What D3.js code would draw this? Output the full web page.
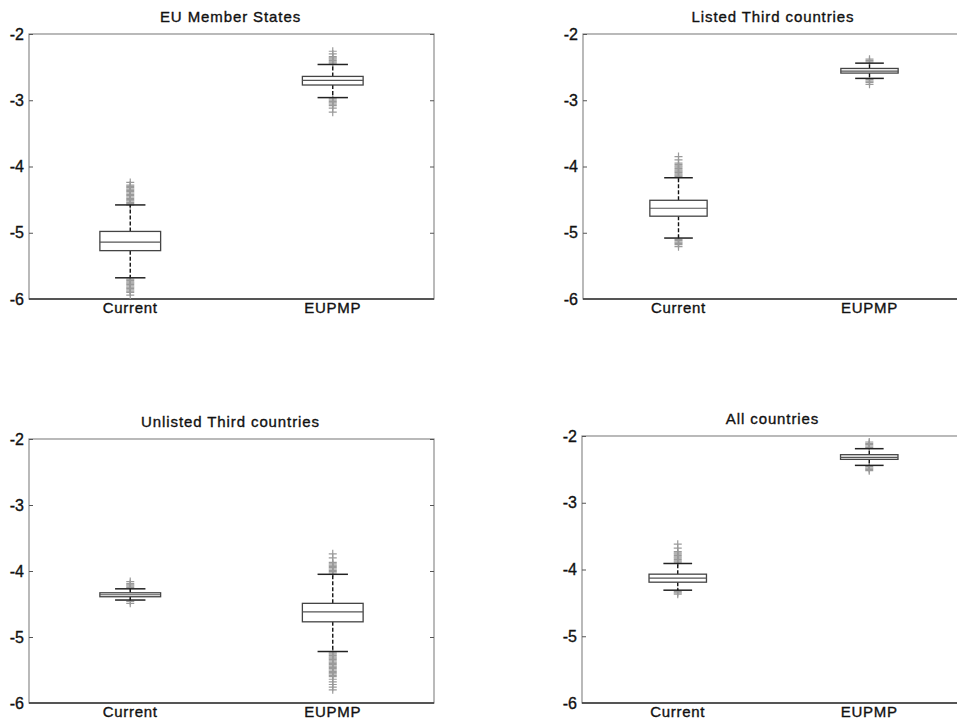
<!DOCTYPE html>
<meta charset="utf-8">
<title>Box plots by country group</title>
<style>
  body { margin: 0; background: #fff; }
  text { font-family: "Liberation Sans", Arial, sans-serif; fill: #111; stroke: #111; stroke-width: 0.35px; }
</style>
<body>
<script src="https://d3js.org/d3.v7.min.js"></script>
<script>

const groups = ["Current", "EUPMP"];
const titles = ["EU Member States", "Listed Third countries", "Unlisted Third countries", "All countries"];
const yTicks = [-6, -5, -4, -3, -2];

// [lower whisker, q1, median, q3, upper whisker] for Current, EUPMP
const euStats = [[-5.68, -5.27, -5.14, -4.98, -4.58], [-2.96, -2.77, -2.70, -2.64, -2.46]];
const listedStats = [[-5.08, -4.75, -4.63, -4.51, -4.17], [-2.67, -2.59, -2.56, -2.52, -2.44]];
const unlistedStats = [[-4.44, -4.39, -4.36, -4.33, -4.27], [-5.22, -4.77, -4.62, -4.49, -4.05]];
const allStats = [[-4.31, -4.19, -4.13, -4.07, -3.91], [-2.44, -2.35, -2.32, -2.28, -2.19]];

// outliers (the dense ones merge into a grey column)
const euOut = [
  [-4.58, -4.56, -4.54, -4.52, -4.50, -4.48, -4.46, -4.44, -4.42, -4.40, -4.38, -4.36, -4.34, -4.32, -4.30, -4.28, -4.24,
   -5.70, -5.72, -5.74, -5.76, -5.78, -5.80, -5.82, -5.84, -5.86, -5.88, -5.90, -5.94],
  [-2.44, -2.42, -2.40, -2.38, -2.36, -2.34, -2.30, -2.26,
   -2.98, -3.00, -3.02, -3.04, -3.06, -3.08, -3.12, -3.18]
];
const listedOut = [
  [-4.15, -4.13, -4.11, -4.09, -4.07, -4.05, -4.03, -4.01, -3.99, -3.97, -3.95, -3.90, -3.85,
   -5.10, -5.12, -5.14, -5.16, -5.18, -5.21],
  [-2.42, -2.40, -2.38, -2.69, -2.71, -2.73, -2.76]
];
const unlistedOut = [
  [-4.25, -4.23, -4.21, -4.19, -4.16, -4.46, -4.49],
  [-4.03, -4.01, -3.99, -3.97, -3.95, -3.93, -3.91, -3.89, -3.87, -3.80, -3.74,
   -5.24, -5.26, -5.28, -5.30, -5.32, -5.34, -5.36, -5.38, -5.40, -5.42, -5.44, -5.46, -5.48, -5.50, -5.52, -5.54,
   -5.56, -5.58, -5.60, -5.64, -5.68, -5.72, -5.76, -5.80]
];
const allOut = [
  [-3.89, -3.87, -3.85, -3.83, -3.81, -3.79, -3.77, -3.75, -3.73, -3.68, -3.62, -4.33, -4.35, -4.37],
  [-2.17, -2.15, -2.13, -2.11, -2.09, -2.46, -2.48, -2.50, -2.52]
];

const panelStats = [euStats, listedStats, unlistedStats, allStats];
const panelOut = [euOut, listedOut, unlistedOut, allOut];

// plot frames (left, right, top, bottom) in page pixels
const frames = [
  { l: 29, r: 434, t: 34, b: 299 },
  { l: 583, r: 965, t: 34, b: 299 },
  { l: 29, r: 434, t: 439, b: 703 },
  { l: 582, r: 965, t: 436, b: 703 }
];

const svg = d3.select("body").append("svg")
  .attr("width", 957)
  .attr("height", 724);

panelStats.forEach((stats, p) => {
  const f = frames[p];
  const g = svg.append("g");

  const x = d3.scaleLinear().domain([0.5, 2.5]).range([f.l, f.r]);
  const y = d3.scaleLinear().domain([-6, -2]).range([f.b, f.t]);
  const boxW = (x(1.15) - x(0.85));
  const capW = boxW / 2;

  // frame
  g.append("rect")
    .attr("x", f.l).attr("y", f.t)
    .attr("width", f.r - f.l).attr("height", f.b - f.t)
    .attr("fill", "none").attr("stroke", "#8c8c8c").attr("stroke-width", 1.2);
  g.append("line")
    .attr("x1", f.l).attr("x2", f.r).attr("y1", f.b).attr("y2", f.b)
    .attr("stroke", "#333").attr("stroke-width", 1.6);

  const left = g.append("g")
    .attr("transform", `translate(${f.l},0)`)
    .call(d3.axisLeft(y).tickValues(yTicks).tickSize(-4).tickPadding(5).tickFormat(d => String(d)));
  left.select(".domain").remove();
  left.selectAll(".tick line").attr("stroke", "#555");
  left.selectAll(".tick text")
    .style("font-size", "16px").style("font-family", "Liberation Sans, Arial, sans-serif").attr("fill", "#111");

  const right = g.append("g")
    .attr("transform", `translate(${f.r},0)`)
    .call(d3.axisRight(y).tickValues(yTicks).tickSize(-4).tickFormat(""));
  right.select(".domain").remove();
  right.selectAll(".tick line").attr("stroke", "#555");

  // title
  g.append("text")
    .attr("x", (f.l + f.r) / 2 - 1)
    .attr("y", f.t - 12)
    .attr("text-anchor", "middle")
    .style("font-size", "15px")
    .style("letter-spacing", "0.9px")
    .text(titles[p]);

  // category labels
  g.selectAll("text.cat")
    .data(groups)
    .join("text")
    .attr("class", "cat")
    .attr("x", (d, i) => x(i + 1))
    .attr("y", f.b + 14)
    .attr("text-anchor", "middle")
    .style("font-size", "15px")
    .style("letter-spacing", "0.7px")
    .text(d => d);

  stats.forEach((s, i) => {
    const cx = x(i + 1);
    const [lo, q1, med, q3, hi] = s;
    const bg = g.append("g");

    // outliers first so whisker caps sit on top
    bg.selectAll("path.out")
      .data(panelOut[p][i])
      .join("path")
      .attr("class", "out")
      .attr("d", d => `M${cx - 4},${y(d)}H${cx + 4}M${cx},${y(d) - 4}V${y(d) + 4}`)
      .attr("stroke", "#9a9a9a")
      .attr("stroke-width", 1.2)
      .attr("fill", "none");

    // whiskers
    bg.append("line")
      .attr("x1", cx).attr("x2", cx).attr("y1", y(q3)).attr("y2", y(hi))
      .attr("stroke", "#111").attr("stroke-width", 1.4).attr("stroke-dasharray", "4,2");
    bg.append("line")
      .attr("x1", cx).attr("x2", cx).attr("y1", y(q1)).attr("y2", y(lo))
      .attr("stroke", "#111").attr("stroke-width", 1.4).attr("stroke-dasharray", "4,2");
    // caps
    [lo, hi].forEach(v => {
      bg.append("line")
        .attr("x1", cx - capW / 2).attr("x2", cx + capW / 2)
        .attr("y1", y(v)).attr("y2", y(v))
        .attr("stroke", "#222").attr("stroke-width", 1.5);
    });

    // box
    bg.append("rect")
      .attr("x", cx - boxW / 2).attr("y", y(q3))
      .attr("width", boxW).attr("height", Math.max(1, y(q1) - y(q3)))
      .attr("fill", "#fff").attr("stroke", "#444").attr("stroke-width", 1.3);
    bg.append("line")
      .attr("x1", cx - boxW / 2).attr("x2", cx + boxW / 2)
      .attr("y1", y(med)).attr("y2", y(med))
      .attr("stroke", "#555").attr("stroke-width", 1.2);
  });
});

</script>
</body>
